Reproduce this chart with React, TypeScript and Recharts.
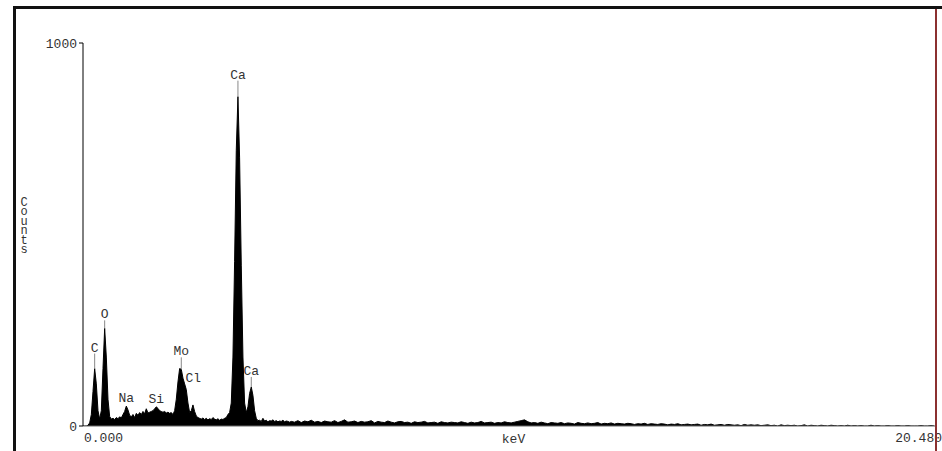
import React from 'react';
import { AreaChart, Area, XAxis, YAxis, ReferenceDot } from 'recharts';

// EDS spectrum, counts per channel
const lowStep = 0.04; // keV per channel, 0 - 5 keV
const lowCounts = [
	0, 0, 0, 2, 8, 30, 90, 150, 110, 40,
	18, 40, 150, 255, 180, 70, 25, 18, 20, 17,
	22, 19, 24, 21, 30, 38, 52, 42, 28, 24,
	30, 22, 33, 28, 35, 30, 38, 32, 45, 34,
	36, 38, 40, 45, 50, 46, 40, 38, 36, 38,
	34, 36, 33, 35, 30, 40, 70, 115, 150, 148,
	125, 110, 95, 60, 35, 40, 55, 38, 26, 22,
	20, 18, 21, 17, 20, 16, 19, 17, 22, 18,
	16, 19, 15, 18, 17, 20, 22, 30, 35, 60,
	180, 430, 720, 860, 700, 420, 180, 60, 35, 50,
	85, 102, 80, 40, 20, 14, 15, 12, 20, 13,
	15, 11, 14, 13, 16, 12, 14, 11, 13, 12,
	15, 11, 13, 12, 10,
];
const highStart = 5;
const highStep = 0.08; // keV per channel, 5 - 20.48 keV
const highCounts = [
	12, 10, 14, 9, 13, 11, 15, 10, 12, 9,
	13, 11, 10, 14, 9, 12, 16, 10, 11, 13,
	9, 12, 10, 11, 14, 8, 12, 10, 9, 13,
	10, 8, 11, 12, 9, 10, 7, 11, 9, 10,
	12, 8, 9, 10, 7, 11, 9, 8, 10, 9,
	8, 11, 9, 7, 10, 8, 9, 12, 8, 9,
	10, 7, 9, 8, 11, 9, 8, 10, 12, 14,
	16, 11, 8, 9, 7, 10, 8, 6, 9, 8,
	7, 9, 6, 8, 7, 5, 9, 7, 6, 8,
	6, 7, 9, 5, 7, 6, 8, 5, 7, 6,
	5, 7, 6, 4, 6, 5, 7, 4, 6, 5,
	4, 6, 5, 3, 5, 4, 6, 3, 4, 5,
	3, 4, 5, 2, 4, 3, 5, 2, 3, 4,
	2, 4, 3, 2, 3, 1, 4, 2, 3, 2,
	3, 1, 2, 3, 1, 2, 0, 3, 1, 2,
	1, 2, 0, 1, 3, 0, 2, 1, 0, 2,
	1, 0, 2, 1, 0, 1, 0, 2, 0, 1,
	0, 1, 0, 0, 2, 0, 1, 0, 0, 1,
	0, 0, 1, 0, 0, 1, 0, 0, 0, 1,
	0, 0, 1, 0,
];

const xTicks = [0, 20.48];
const xTickLabels = ['0.000', '20.480'];
const yTicks = [0, 1000];
const xTitle = 'keV';
const yTitle = 'Counts';

const peakLabels = [
	{ el: 'C', keV: 0.28 },
	{ el: 'O', keV: 0.52 },
	{ el: 'Na', keV: 1.04 },
	{ el: 'Si', keV: 1.76 },
	{ el: 'Mo', keV: 2.36 },
	{ el: 'Cl', keV: 2.48 },
	{ el: 'Ca', keV: 3.72 },
	{ el: 'Ca', keV: 4.04 },
];

const data = [
	...lowCounts.map((counts, i) => ({ keV: +(i * lowStep).toFixed(2), counts })),
	...highCounts.map((counts, i) => ({ keV: +(highStart + i * highStep).toFixed(2), counts })),
];

const countAt = (keV: number) =>
	data.reduce((best, d) => (Math.abs(d.keV - keV) < Math.abs(best.keV - keV) ? d : best), data[0]).counts;

const FONT = '"Liberation Mono", monospace';
const TEXT = '#333';
const MARKER = '#8b3030';

// gap (px) between peak top and label baseline, and sideways nudge
const labelGap = [17, 10, 4, 4, 14, 8, 18, 12];
const labelDx = [0, 0, 0, 0, 0, 7, 0, 0];

const XTick = (props: any) => {
	const { x, y, payload } = props;
	const i = xTicks.indexOf(payload.value);
	return (
		<text
			x={i === 0 ? x + 1 : x + 6}
			y={y + 16}
			fill={TEXT}
			fontFamily={FONT}
			fontSize={13}
			textAnchor={i === 0 ? 'start' : 'end'}
		>
			{xTickLabels[i]}
		</text>
	);
};

export default function App() {
	return (
		<div style={{ position: 'absolute', left: 0, top: 0, width: 942, height: 451, overflow: 'hidden', background: '#fff' }}>
			<div
				style={{
					position: 'absolute',
					left: 13,
					top: 6,
					width: 1000,
					height: 500,
					borderTop: '3px solid #111',
					borderLeft: '3px solid #111',
				}}
			/>
			<div style={{ position: 'absolute', left: 0, top: 0 }}>
				<AreaChart width={942} height={451} data={data} margin={{ top: 43, right: 6, bottom: 5, left: 23 }}>
					<XAxis
						type='number'
						dataKey='keV'
						domain={[0, 20.48]}
						ticks={xTicks}
						interval={0}
						allowDataOverflow
						height={20}
						tickSize={0}
						tickMargin={0}
						tickLine={false}
						axisLine={{ stroke: '#666' }}
						tick={<XTick />}
						label={{
							content: (p: any) => (
								<text
									x={p.viewBox.x + p.viewBox.width / 2 + 4}
									y={p.viewBox.y + 17}
									fill={TEXT}
									fontFamily={FONT}
									fontSize={13}
									textAnchor='middle'
								>
									{xTitle}
								</text>
							),
						}}
					/>
					<YAxis
						type='number'
						domain={[0, 1000]}
						ticks={yTicks}
						interval={0}
						allowDataOverflow
						width={60}
						tickSize={4}
						tickMargin={2}
						axisLine={{ stroke: '#000' }}
						tickLine={{ stroke: '#000' }}
						tick={{ fill: TEXT, fontFamily: FONT, fontSize: 13 }}
						label={{
							content: (p: any) => (
								<g>
									{yTitle.split('').map((ch, i) => (
										<text
											key={i}
											x={24}
											y={p.viewBox.y + 163 + i * 9.4}
											fill={TEXT}
											style={{ fill: TEXT }}
											fontFamily={FONT}
											fontSize={12}
											textAnchor='middle'
										>
											{ch}
										</text>
									))}
								</g>
							),
						}}
					/>
					<Area
						type='linear'
						dataKey='counts'
						stroke='#000'
						strokeWidth={1}
						fill='#000'
						fillOpacity={1}
						isAnimationActive={false}
					/>
					{peakLabels.map((p, i) => (
						<ReferenceDot
							key={i}
							x={p.keV}
							y={countAt(p.keV)}
							r={0}
							shape={(props: any) => {
								const { cx, cy } = props;
								const base = cy - labelGap[i];
								return (
									<g>
										{labelGap[i] > 6 && labelDx[i] === 0 ? (
											<line x1={cx} x2={cx} y1={base + 2} y2={cy} stroke='#888' strokeWidth={1} />
										) : null}
										<text x={cx + labelDx[i]} y={base} fill={TEXT} fontFamily={FONT} fontSize={13} textAnchor='middle'>
											{p.el}
										</text>
									</g>
								);
							}}
						/>
					))}
				</AreaChart>
			</div>
			{/* end-of-range marker at 20.48 keV, runs from the frame to the bottom edge */}
			<div style={{ position: 'absolute', left: 935, top: 9, width: 2, height: 442, background: MARKER }} />
		</div>
	);
}
